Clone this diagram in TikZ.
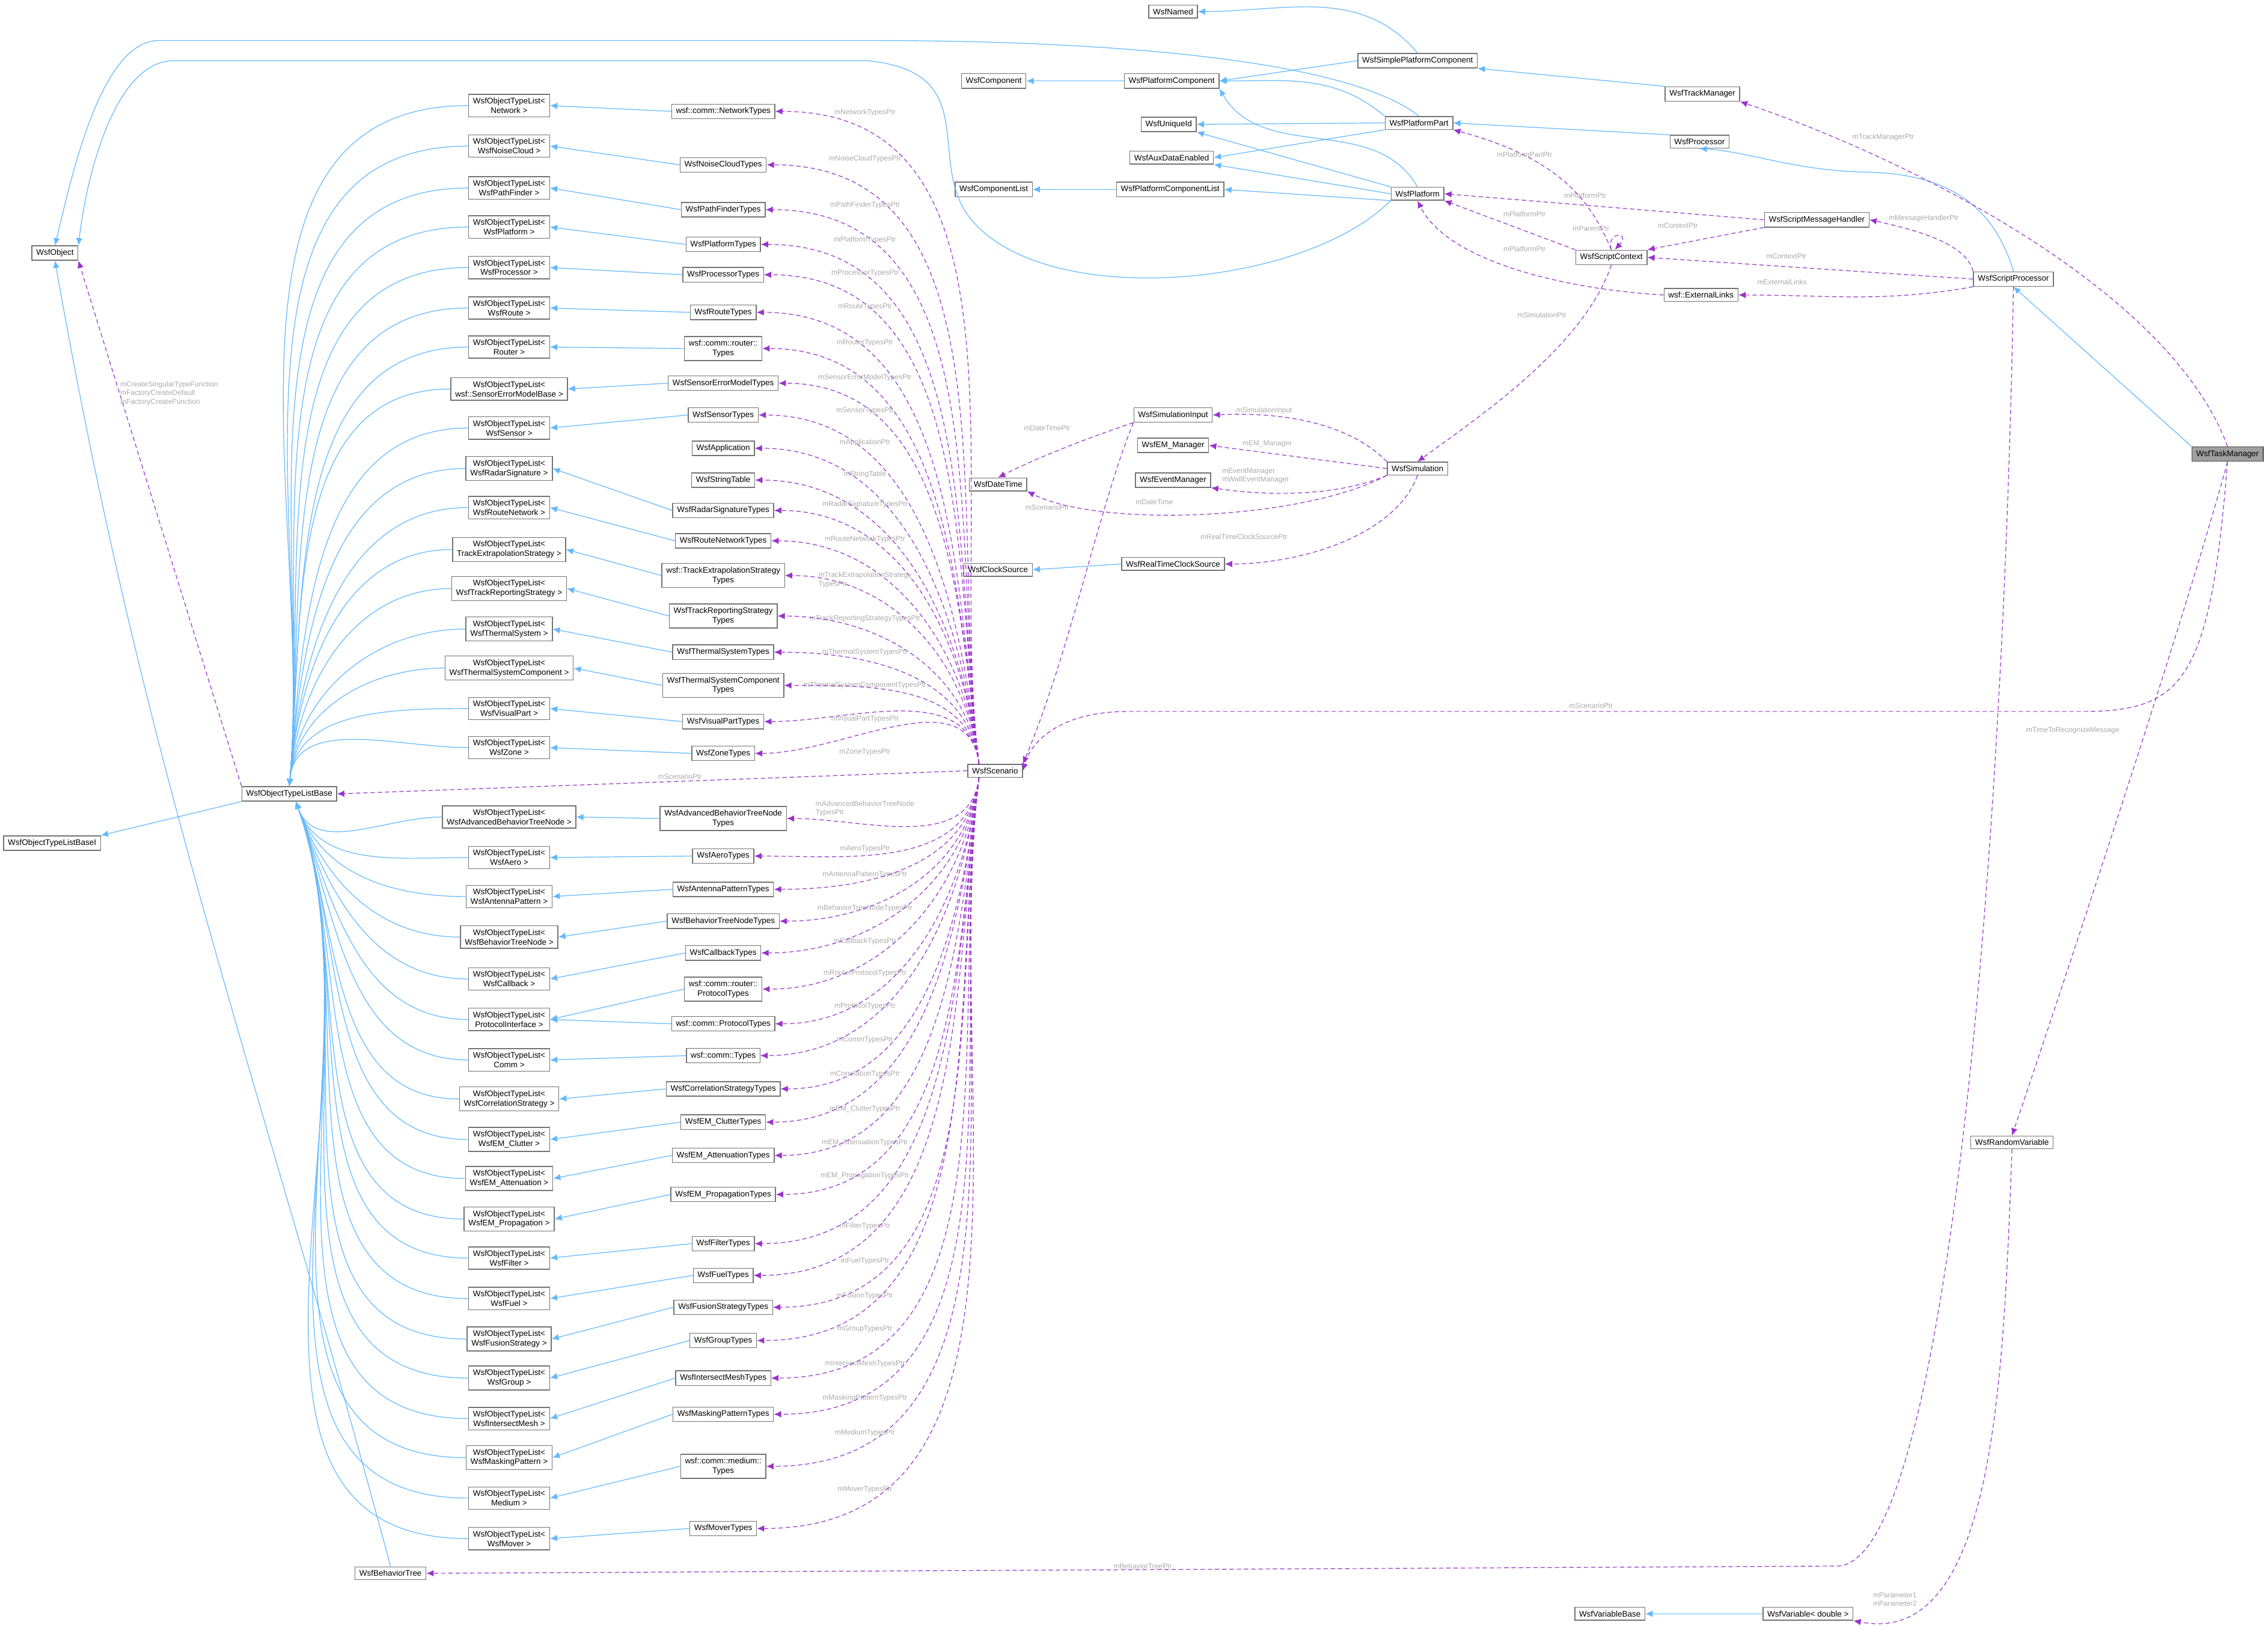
\documentclass[tikz,border=0pt]{standalone}
\usepackage{fontspec}
\setmainfont{Liberation Sans}
\usetikzlibrary{arrows.meta}
\definecolor{inhc}{HTML}{63B8FF}
\definecolor{depc}{HTML}{9A32CD}
\definecolor{lblc}{HTML}{AAAAAA}
\begin{document}
\begin{tikzpicture}[x=1pt,y=-1pt,
  cls/.style={draw=gray!90!black,line width=0.6pt,fill=white,font=\fontsize{5.6}{6.6}\selectfont,inner xsep=3pt,inner ysep=2.4pt,align=center},
  lbl/.style={font=\fontsize{5}{6}\selectfont,text=lblc,align=left,inner sep=0pt},
  inh/.style={draw=inhc,line width=0.5pt,-{Latex[length=5pt,width=4.5pt]}},
  dep/.style={draw=depc,line width=0.5pt,dashed,dash pattern=on 3pt off 2pt,-{Latex[length=5pt,width=4.5pt]}}]
\useasboundingbox[fill=white] (0,0) rectangle (1568,1132);

% ---------- main nodes ----------
\node[cls] (named) at (811,8) {WsfNamed};
\node[cls] (spc) at (980,42) {WsfSimplePlatformComponent};
\node[cls] (trkm) at (1177,65) {WsfTrackManager};
\node[cls] (comp) at (687,56) {WsfComponent};
\node[cls] (pc) at (810,56) {WsfPlatformComponent};
\node[cls] (uid) at (808,86) {WsfUniqueId};
\node[cls] (pp) at (981,85) {WsfPlatformPart};
\node[cls] (proc) at (1175,98) {WsfProcessor};
\node[cls] (aux) at (810,109) {WsfAuxDataEnabled};
\node[cls] (cl) at (687,131) {WsfComponentList};
\node[cls] (pcl) at (809,131) {WsfPlatformComponentList};
\node[cls] (plat) at (980,134) {WsfPlatform};
\node[cls] (mh) at (1256,152) {WsfScriptMessageHandler};
\node[cls] (ctx) at (1114,178) {WsfScriptContext};
\node[cls] (sp) at (1392,193) {WsfScriptProcessor};
\node[cls] (ext) at (1176,204) {wsf::ExternalLinks};
\node[cls] (si) at (811,287) {WsfSimulationInput};
\node[cls] (em) at (811,308) {WsfEM\_Manager};
\node[cls] (dt) at (690,335) {WsfDateTime};
\node[cls] (evm) at (811,332) {WsfEventManager};
\node[cls] (sim) at (980,324) {WsfSimulation};
\node[cls] (cs) at (690,394) {WsfClockSource};
\node[cls] (rtcs) at (811,390) {WsfRealTimeClockSource};
\node[cls] (sc) at (688,533) {WsfScenario};
\node[cls,fill=gray!75,draw=gray!60!black] (tm) at (1540,314) {WsfTaskManager};
\node[cls] (rv) at (1391,790) {WsfRandomVariable};
\node[cls] (vb) at (1113,1116) {WsfVariableBase};
\node[cls] (var) at (1250,1116) {WsfVariable< double >};
\node[cls] (bt) at (270,1088) {WsfBehaviorTree};
\node[cls] (obj) at (38,175) {WsfObject};
\node[cls] (base) at (200,549) {WsfObjectTypeListBase};
\node[cls] (basei) at (36,583) {WsfObjectTypeListBaseI};

% ---------- type lists ----------
\foreach \i/\y/\t in {1/73/{Network >},2/101/{WsfNoiseCloud >},3/130/{WsfPathFinder >},4/157/{WsfPlatform >},5/185/{WsfProcessor >},6/213/{WsfRoute >},7/240/{Router >},8/269/{wsf::SensorErrorModelBase >},9/296/{WsfSensor >},10/324/{WsfRadarSignature >},11/351/{WsfRouteNetwork >},12/380/{TrackExtrapolationStrategy >},13/407/{WsfTrackReportingStrategy >},14/435/{WsfThermalSystem >},15/462/{WsfThermalSystemComponent >},16/490/{WsfVisualPart >},17/517/{WsfZone >}}{
  \node[cls] (tl\i) at (352,\y) {WsfObjectTypeList<\\\t};
  \draw[inh] (tl\i.west) to[out=180,in=85] (base.north);
}
\foreach \i/\y/\t in {18/565/{WsfAdvancedBehaviorTreeNode >},19/593/{WsfAero >},20/620/{WsfAntennaPattern >},21/648/{WsfBehaviorTreeNode >},22/677/{WsfCallback >},23/705/{ProtocolInterface >},24/733/{Comm >},25/760/{WsfCorrelationStrategy >},26/788/{WsfEM\_Clutter >},27/815/{WsfEM\_Attenuation >},28/843/{WsfEM\_Propagation >},29/870/{WsfFilter >},30/898/{WsfFuel >},31/926/{WsfFusionStrategy >},32/953/{WsfGroup >},33/981/{WsfIntersectMesh >},34/1008/{WsfMaskingPattern >},35/1036/{Medium >},36/1064/{WsfMover >}}{
  \node[cls] (tl\i) at (352,\y) {WsfObjectTypeList<\\\t};
  \draw[inh] (tl\i.west) to[out=180,in=-70] (base.-50);
}

% ---------- types ----------
\foreach \i/\y/\t/\ly/\l/\s/\o/\k in {
 1/77/{wsf::comm::NetworkTypes}/78/{mNetworkTypesPtr}/north west/97/1,
 2/114/{WsfNoiseCloudTypes}/110/{mNoiseCloudTypesPtr}/north west/97/2,
 3/145/{WsfPathFinderTypes}/142/{mPathFinderTypesPtr}/north west/97/3,
 4/169/{WsfPlatformTypes}/166/{mPlatformTypesPtr}/north west/97/4,
 5/190/{WsfProcessorTypes}/189/{mProcessorTypesPtr}/north west/97/5,
 6/216/{WsfRouteTypes}/212/{mRouteTypesPtr}/north west/97/6,
 7/241/{wsf::comm::router::\\Types}/237/{mRouterTypesPtr}/north west/97/7,
 8/265/{WsfSensorErrorModelTypes}/261/{mSensorErrorModelTypesPtr}/north west/97/8,
 9/287/{WsfSensorTypes}/284/{mSensorTypesPtr}/north west/97/9,
 10/310/{WsfApplication}/306/{mApplicationPtr}/north west/97/0,
 11/332/{WsfStringTable}/328/{mStringTable}/north west/97/0,
 12/353/{WsfRadarSignatureTypes}/349/{mRadarSignatureTypesPtr}/north west/97/10,
 13/374/{WsfRouteNetworkTypes}/373/{mRouteNetworkTypesPtr}/north west/97/11,
 14/398/{wsf::TrackExtrapolationStrategy\\Types}/401/{mTrackExtrapolationStrategy\\TypesPtr}/north west/97/12,
 15/426/{WsfTrackReportingStrategy\\Types}/428/{mTrackReportingStrategyTypesPtr}/north west/97/13,
 16/451/{WsfThermalSystemTypes}/451/{mThermalSystemTypesPtr}/north west/97/14,
 17/474/{WsfThermalSystemComponent\\Types}/474/{mThermalSystemComponentTypesPtr}/north west/97/15,
 18/499/{WsfVisualPartTypes}/497/{mVisualPartTypesPtr}/north west/97/16,
 19/521/{WsfZoneTypes}/520/{mZoneTypesPtr}/north west/97/17,
 20/566/{WsfAdvancedBehaviorTreeNode\\Types}/559/{mAdvancedBehaviorTreeNode\\TypesPtr}/south west/-97/18,
 21/592/{WsfAeroTypes}/587/{mAeroTypesPtr}/south west/-97/19,
 22/615/{WsfAntennaPatternTypes}/605/{mAntennaPatternTypesPtr}/south west/-97/20,
 23/637/{WsfBehaviorTreeNodeTypes}/628/{mBehaviorTreeNodeTypesPtr}/south west/-97/21,
 24/659/{WsfCallbackTypes}/651/{mCallbackTypesPtr}/south west/-97/22,
 25/684/{wsf::comm::router::\\ProtocolTypes}/673/{mRouterProtocolTypesPtr}/south west/-97/23,
 26/708/{wsf::comm::ProtocolTypes}/696/{mProtocolTypesPtr}/south west/-97/23,
 27/730/{wsf::comm::Types}/719/{mCommTypesPtr}/south west/-97/24,
 28/753/{WsfCorrelationStrategyTypes}/743/{mCorrelationTypesPtr}/south west/-97/25,
 29/776/{WsfEM\_ClutterTypes}/767/{mEM\_ClutterTypesPtr}/south west/-97/26,
 30/799/{WsfEM\_AttenuationTypes}/790/{mEM\_AttenuationTypesPtr}/south west/-97/27,
 31/826/{WsfEM\_PropagationTypes}/813/{mEM\_PropagationTypesPtr}/south west/-97/28,
 32/860/{WsfFilterTypes}/848/{mFilterTypesPtr}/south west/-97/29,
 33/882/{WsfFuelTypes}/872/{mFuelTypesPtr}/south west/-97/30,
 34/904/{WsfFusionStrategyTypes}/896/{mFusionTypesPtr}/south west/-97/31,
 35/927/{WsfGroupTypes}/919/{mGroupTypesPtr}/south west/-97/32,
 36/953/{WsfIntersectMeshTypes}/943/{mIntersectMeshTypesPtr}/south west/-97/33,
 37/978/{WsfMaskingPatternTypes}/967/{mMaskingPatternTypesPtr}/south west/-97/34,
 38/1014/{wsf::comm::medium::\\Types}/991/{mMediumTypesPtr}/south west/-97/35,
 39/1057/{WsfMoverTypes}/1030/{mMoverTypesPtr}/south west/-97/36}{
  \node[cls] (ty\i) at (500,\y) {\t};
  \node[lbl] (lb\i) at (598,\ly) {\l};
  \draw[dep] ([xshift=8pt]sc.\s) to[out=\o,in=0] (ty\i.east);
  \ifnum\k>0 \draw[inh] (ty\i.west) -- (tl\k.east); \fi
}

% ---------- left side ----------
\draw[inh] (base.south west) -- (basei.north east);
\draw[inh] (bt.north) to[out=105,in=-80] (obj.south);
\draw[dep] (base.north west) -- (obj.south east);
\node[lbl,anchor=west] (lobj) at (83,272) {mCreateSingularTypeFunction\\mFactoryCreateDefault\\mFactoryCreateFunction};
\draw[dep] (sc.west) -- (base.east);
\node[lbl] (lscb) at (470,537) {mScenarioPtr};

% ---------- platform cluster (inheritance) ----------
\draw[inh] (spc.north) to[out=130,in=0] (named.east);
\draw[inh] (spc.west) -- (pc.east);
\draw[inh] (trkm.north west) -- (spc.south east);
\draw[inh] (pc.west) -- (comp.east);
\draw[inh] (pp.north west) to[out=140,in=0] (pc.east);
\draw[inh] (pp.west) -- (uid.east);
\draw[inh] (pp.south west) -- (aux.east);
\draw[inh] (pp.north) .. controls (930,40) and (760,28) .. (600,28) -- (110,28) .. controls (70,28) and (50,120) .. (obj.north);
\draw[inh] (plat.north) to[out=120,in=-60] (pc.south east);
\draw[inh] (plat.north west) -- (uid.south east);
\draw[inh] (plat.west) -- (aux.south east);
\draw[inh] (plat.south west) -- (pcl.east);
\draw[inh] (plat.south west) .. controls (900,200) and (720,215) .. (670,150) .. controls (640,110) and (680,50) .. (600,42) -- (120,42) .. controls (80,42) and (60,120) .. (obj.north east);
\draw[inh] (pcl.west) -- (cl.east);
\draw[inh] (proc.north west) -- (pp.east);
\draw[inh] (sp.north) .. controls (1375,130) and (1330,120) .. (1290,119) .. controls (1240,118) and (1210,105) .. (proc.south);
\draw[inh] (tm.north west) -- (sp.south);
\draw[inh] (rtcs.west) -- (cs.east);
\draw[inh] (var.west) -- (vb.east);

% ---------- dependencies right ----------
\draw[dep] (tm.north) .. controls (1500,200) and (1320,110) .. (trkm.south east);
\node[lbl] (ltrk) at (1302,95) {mTrackManagerPtr};
\draw[dep] (tm.south) .. controls (1528,470) and (1510,492) .. (1440,492) -- (780,492) .. controls (730,492) and (712,515) .. (sc.east);
\node[lbl] (lsc1) at (1100,488) {mScenarioPtr};
\draw[dep] (tm.south) .. controls (1510,430) and (1420,700) .. (rv.north);
\node[lbl] (ltt) at (1433,505) {mTimeToRecognizeMessage};
\draw[dep] (sp.south) .. controls (1385,600) and (1345,1083) .. (1270,1083) -- (bt.east);
\node[lbl] (lbt) at (790,1083) {mBehaviorTreePtr};
\draw[dep] (rv.south) .. controls (1385,950) and (1380,1140) .. (var.south east);
\node[lbl] (lpar) at (1310,1106) {mParameter1\\mParameter2};
\draw[dep] (sp.north west) .. controls (1360,170) and (1330,160) .. (mh.east);
\node[lbl] (lmh) at (1330,151) {mMessageHandlerPtr};
\draw[dep] (sp.west) -- (ctx.east);
\node[lbl] (lctx1) at (1235,177) {mContextPtr};
\draw[dep] (sp.south west) to[out=190,in=0] (ext.east);
\node[lbl] (lext) at (1232,195) {mExternalLinks};
\draw[dep] (mh.west) -- (plat.east);
\node[lbl] (lp1) at (1096,135) {mPlatformPtr};
\draw[dep] (mh.south west) -- (ctx.north east);
\node[lbl] (lctx2) at (1160,156) {mContextPtr};
\draw[dep] (ctx.north) .. controls (1100,140) and (1080,110) .. (pp.south east);
\node[lbl] (lpp) at (1054,107) {mPlatformPartPtr};
\draw[dep] (ctx.north west) -- (plat.south east);
\node[lbl] (lp2) at (1054,148) {mPlatformPtr};
\draw[dep] (ext.west) .. controls (1080,200) and (1000,180) .. (plat.south);
\node[lbl] (lp3) at (1054,172) {mPlatformPtr};
\draw[dep] (ctx.north) .. controls (1110,160) and (1128,160) .. (ctx.65);
\node[lbl] (lpar2) at (1100,158) {mParentPtr};
\draw[dep] (ctx.south) .. controls (1095,240) and (1020,290) .. (sim.north);
\node[lbl] (lsim) at (1066,218) {mSimulationPtr};

% ---------- simulation ----------
\draw[dep] (sim.north west) .. controls (930,290) and (880,285) .. (si.east);
\node[lbl] (lsi) at (874,284) {mSimulationInput};
\draw[dep] (sim.west) -- (em.east);
\node[lbl] (lem) at (876,307) {mEM\_Manager};
\draw[dep] (sim.south west) .. controls (920,345) and (870,342) .. (evm.south east);
\node[lbl] (lev) at (868,329) {mEventManager\\mWallEventManager};
\draw[dep] (sim.south west) .. controls (900,360) and (760,365) .. (dt.south east);
\node[lbl] (ldt) at (798,347) {mDateTime};
\draw[dep] (sim.south) .. controls (965,370) and (900,390) .. (rtcs.east);
\node[lbl] (lrt) at (860,371) {mRealTimeClockSourcePtr};
\draw[dep] (si.south west) .. controls (760,300) and (720,315) .. (dt.north);
\node[lbl] (ldtp) at (724,296) {mDateTimePtr};
\draw[dep] (si.south west) .. controls (760,350) and (740,450) .. (sc.north east);
\node[lbl] (lscp) at (724,351) {mScenarioPtr};
\end{tikzpicture}
\end{document}
